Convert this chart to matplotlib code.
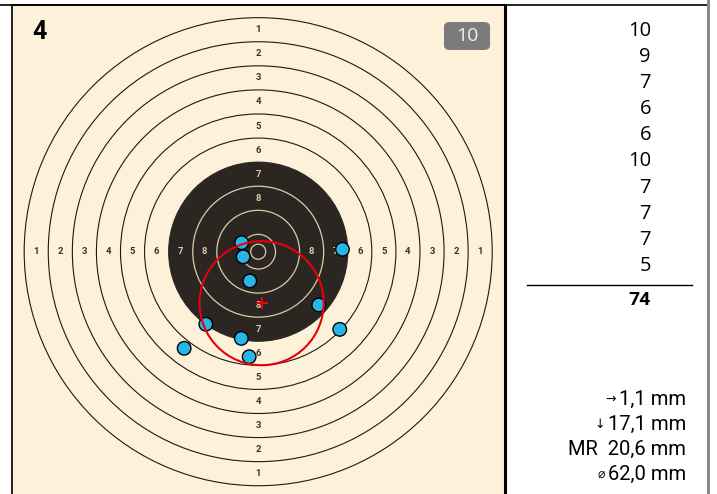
import numpy as np
import matplotlib.pyplot as plt
from matplotlib.patches import Circle, FancyBboxPatch
from matplotlib.lines import Line2D

# shot positions in mm (x right, y up) and their scores
shot_x = [-5.5, -2.8, 28.0, -3.0, 27.1, -5.0, 20.1, -17.4, -5.6, -24.6]
shot_y = [3.0, -9.7, 0.8, -34.9, -25.8, -1.7, -17.7, -24.1, -28.8, -32.1]
scores = [10, 9, 7, 6, 6, 10, 7, 7, 7, 5]
series_no = "4"
badge = "10"
stats = [("\u2192", "1,1 mm"), ("\u2193", "17,1 mm"), ("", "MR  20,6 mm"), ("\u2300", "62,0 mm")]

# air pistol target geometry (mm)
ring_nums = list(range(1, 11))
ring_r = [5.75 + (10 - k) * 8 for k in ring_nums]
inner_ten = 2.5
shot_r = 2.25

W, H = 717, 494
cream = "#fef1d9"
black = "#2b2621"
tan = "#dccba8"
blue = "#29b6e6"
red = "#e8000b"

fig = plt.figure(figsize=(W / 100, H / 100), dpi=100)
fig.patch.set_facecolor("white")

def fx(px):
    return px / W

def fy(py):
    return 1 - py / H

# target panel
ax = fig.add_axes([fx(12), 0, fx(505) - fx(12), 1 - 5 / H])
ax.set_facecolor(cream)
ax.set_xlim(-81.8, 82.0)
ax.set_ylim(-80.5, 81.96)
ax.set_xticks([])
ax.set_yticks([])
ax.spines["bottom"].set_visible(False)
ax.spines["left"].set_linewidth(1.2)
ax.spines["top"].set_linewidth(1.2)
ax.spines["right"].set_linewidth(2.2)

# rings
for k, r in zip(ring_nums, ring_r):
    if k <= 6:
        ax.add_patch(Circle((0, 0), r, fill=False, ec="#1a1a1a", lw=0.8))
ax.add_patch(Circle((0, 0), ring_r[6], fc=black, ec=black, lw=0.8))
for k, r in zip(ring_nums, ring_r):
    if k >= 8:
        ax.add_patch(Circle((0, 0), r, fill=False, ec=tan, lw=0.9))
ax.add_patch(Circle((0, 0), inner_ten, fill=False, ec=tan, lw=0.9))

# ring labels
for k, r in zip(ring_nums[:8], ring_r[:8]):
    d = r - 4
    col = "#333333" if k <= 6 else tan
    for (dx, dy) in [(0, 1), (0, -1), (1, 0), (-1, 0)]:
        ax.text(dx * d, dy * d, str(k), ha="center", va="center", fontsize=6.8,
                fontweight="bold", color=col, family="Roboto", zorder=3)

# shots
for x, y in zip(shot_x, shot_y):
    ax.add_patch(Circle((x, y), shot_r, fc=blue, ec="black", lw=1.0, zorder=4))

# mean point and mean radius
mx, my = np.mean(shot_x), np.mean(shot_y)
mr = np.mean(np.hypot(np.array(shot_x) - mx, np.array(shot_y) - my))
ax.add_patch(Circle((mx, my), mr, fill=False, ec=red, lw=1.5, zorder=5))
ax.plot(mx, my, marker="+", color=red, ms=9, mew=1.5, zorder=6)

# series number and badge
fig.text(fx(32), fy(32), series_no, fontsize=18, fontweight="bold", family="Roboto",
         ha="left", va="center", color="black")
fig.patches.append(FancyBboxPatch((fx(444), fy(50)), fx(46), fy(22) - fy(50),
                                  boxstyle="round,pad=0,rounding_size=0.009",
                                  transform=fig.transFigure, fc="#7b7b7b", ec="none"))
fig.text(fx(467), fy(36), badge, fontsize=14, family="Open Sans", color="#f2f2f2",
         ha="center", va="center")

# right panel frame
fig.add_artist(Line2D([0, fx(707)], [fy(5), fy(5)], color="black", lw=1.2))
fig.add_artist(Line2D([fx(708), fx(708)], [0, 1], color="#888888", lw=2.2))

# scores column
for i, sc in enumerate(scores):
    fig.text(fx(651), fy(31 + i * 26.1), str(sc), fontsize=14.5, family="Open Sans",
             ha="right", va="center", color="black")
fig.add_artist(Line2D([fx(527), fx(692)], [fy(285), fy(285)], color="black", lw=1.0))
fig.text(fx(651), fy(300), str(sum(scores)), fontsize=14, fontweight="bold",
         family="Roboto", ha="right", va="center", color="black")

# stats
fig.canvas.draw()
rend = fig.canvas.get_renderer()
for i, (sym, txt) in enumerate(stats):
    yy = fy(399 + i * 25)
    t = fig.text(fx(686), yy, txt, fontsize=14.5, family="Roboto",
                 ha="right", va="center", color="black")
    if sym:
        bb = t.get_window_extent(renderer=rend)
        fig.text(bb.x0 / W - fx(3), yy, sym, fontsize=9, family="DejaVu Sans",
                 ha="right", va="center", color="black")

fig.savefig("out.png", dpi=100)
